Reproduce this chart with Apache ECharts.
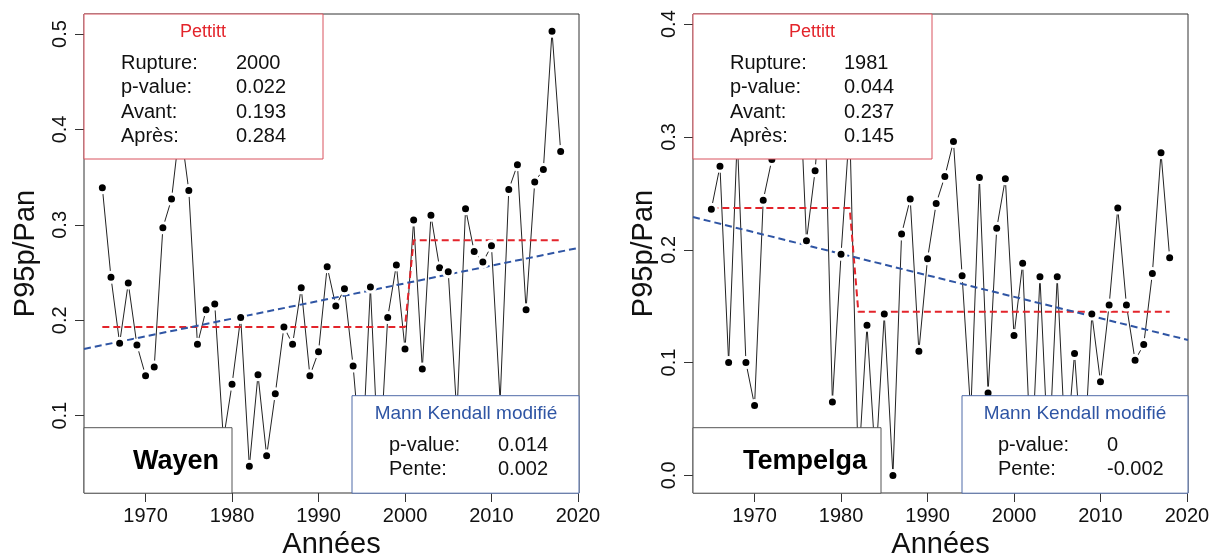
<!DOCTYPE html>
<html>
<head>
<meta charset="utf-8">
<script src="https://cdn.jsdelivr.net/npm/echarts@6/dist/echarts.min.js"></script>
<style>
  html, body { margin: 0; padding: 0; background: #fff; }
  #chart { width: 1211px; height: 557px; }
</style>
</head>
<body>
<div id="chart"></div>
<script>
// data
const years = [];
for (let y = 1965; y <= 2018; y++) years.push(y);

const wayenValues = [
  0.339, 0.245, 0.176, 0.239, 0.174, 0.142, 0.151, 0.297, 0.327, 0.405,
  0.336, 0.175, 0.211, 0.217, 0.075, 0.133, 0.203, 0.047, 0.143, 0.058,
  0.123, 0.193, 0.175, 0.234, 0.142, 0.167, 0.256, 0.215, 0.233, 0.152,
  0.045, 0.235, 0.038, 0.203, 0.258, 0.170, 0.305, 0.149, 0.310, 0.255,
  0.251, 0.100, 0.317, 0.272, 0.261, 0.278, 0.115, 0.337, 0.363, 0.211,
  0.345, 0.358, 0.503, 0.377
];
const tempelgaValues = [
  0.236, 0.274, 0.100, 0.300, 0.100, 0.062, 0.244, 0.280, 0.330, 0.300,
  0.385, 0.208, 0.270, 0.370, 0.065, 0.196, 0.310, 0.005, 0.133, 0.010,
  0.143, 0.000, 0.214, 0.245, 0.110, 0.192, 0.241, 0.265, 0.296, 0.177,
  0.055, 0.264, 0.073, 0.219, 0.263, 0.124, 0.188, 0.005, 0.176, 0.010,
  0.176, 0.015, 0.108, 0.000, 0.143, 0.083, 0.151, 0.237, 0.151, 0.102,
  0.116, 0.179, 0.286, 0.193
];

// Pettitt: rupture, p-value, avant, après
const pettittLabels = ["Rupture:", "p-value:", "Avant:", "Après:"];
const wayenPettitt = ["2000", "0.022", "0.193", "0.284"];
const tempelgaPettitt = ["1981", "0.044", "0.237", "0.145"];
// Mann Kendall modifié: p-value, pente
const mkLabels = ["p-value:", "Pente:"];
const wayenMK = ["0.014", "0.002"];
const tempelgaMK = ["0", "-0.002"];
// trend line values at the left / right edge of the plot
const xRange = [1962.88, 2020.12];
const wayenTrend = [0.170, 0.276];
const tempelgaTrend = [0.229, 0.120];

const xTicks = [1970, 1980, 1990, 2000, 2010, 2020];
const wayenYTicks = [0.1, 0.2, 0.3, 0.4, 0.5];
const tempelgaYTicks = [0.0, 0.1, 0.2, 0.3, 0.4];

const FONT = "'Liberation Sans', Arial, sans-serif";
const RED = "#e3242b";
const BLUE = "#2f55a4";

function pairs(vals) {
  return years.map((y, i) => [y, vals[i]]);
}
function stepLine(stats) {
  const r = +stats[0], a = +stats[2], b = +stats[3];
  return [[years[0], a], [r, a], [r + 1, b], [years[years.length - 1], b]];
}

function xAxisFor(gi) {
  return {
    type: "value", gridIndex: gi, min: xRange[0], max: xRange[1],
    name: "Années", nameLocation: "middle", nameGap: 37,
    nameTextStyle: { fontSize: 29, fontFamily: FONT, color: "#111" },
    axisLine: { show: false, onZero: false },
    splitLine: { show: false },
    axisTick: { show: true, inside: false, length: 9, customValues: xTicks,
      lineStyle: { color: "#333" } },
    axisLabel: { customValues: xTicks, fontSize: 20, fontFamily: FONT,
      color: "#111", margin: 13, formatter: v => String(v) }
  };
}
function yAxisFor(gi, min, max, ticks, gap) {
  return {
    type: "value", gridIndex: gi, min: min, max: max,
    name: "P95p/Pan", nameLocation: "middle", nameGap: gap, nameRotate: 90,
    nameTextStyle: { fontSize: 29, fontFamily: FONT, color: "#111" },
    axisLine: { show: false, onZero: false },
    splitLine: { show: false },
    axisTick: { show: true, inside: false, length: 9, customValues: ticks,
      lineStyle: { color: "#333" } },
    axisLabel: { customValues: ticks, rotate: 90, fontSize: 20, fontFamily: FONT,
      color: "#111", margin: 14, formatter: v => v.toFixed(1) }
  };
}
function seriesFor(gi, vals, stats, trend) {
  return [
    {
      type: "line", xAxisIndex: gi, yAxisIndex: gi, data: pairs(vals),
      symbol: "circle", symbolSize: 10,
      itemStyle: { color: "#000", borderColor: "#fff", borderWidth: 3 },
      lineStyle: { color: "#222", width: 1 }
    },
    {
      type: "line", xAxisIndex: gi, yAxisIndex: gi, data: stepLine(stats),
      symbol: "none", lineStyle: { color: RED, width: 2, type: [7, 4] }
    },
    {
      type: "line", xAxisIndex: gi, yAxisIndex: gi,
      data: [[xRange[0], trend[0]], [xRange[1], trend[1]]],
      symbol: "none", lineStyle: { color: BLUE, width: 2, type: [7, 4] }
    }
  ];
}

function txt(x, y, text, opt) {
  return {
    type: "text", x: x, y: y, z: 101,
    style: Object.assign({
      text: text, fontSize: 20, fontFamily: FONT, fill: "#111",
      align: "left", verticalAlign: "middle",
      textAlign: "left", textVerticalAlign: "middle"
    }, opt || {})
  };
}
function box(x, y, w, h, stroke) {
  return { type: "rect", z: 100, shape: { x: x, y: y, width: w, height: h },
    style: { fill: "#fff", stroke: stroke, lineWidth: 1 } };
}

// p: layout of the annotation boxes of one panel
function panelGraphics(p, name, pet, mk) {
  const g = [];
  g.push(box(p.left, 14, p.petRight - p.left, 145, "#d9535f"));
  g.push(txt(p.petTitle, 32, "Pettitt",
    { fill: RED, fontSize: 18, align: "center", textAlign: "center" }));
  [63, 87.7, 112.2, 136.7].forEach((y, i) => {
    g.push(txt(p.petLab, y, pettittLabels[i]));
    g.push(txt(p.petVal, y, pet[i]));
  });
  g.push(box(p.mkLeft, 395.7, p.right - p.mkLeft, 97.5, "#4f6aa8"));
  g.push(txt(p.mkTitle, 413.3, "Mann Kendall modifié",
    { fill: BLUE, fontSize: 19, align: "center", textAlign: "center" }));
  [445.7, 469.3].forEach((y, i) => {
    g.push(txt(p.mkLab, y, mkLabels[i]));
    g.push(txt(p.mkVal, y, mk[i]));
  });
  g.push(box(p.left, 427.7, p.nameRight - p.left, 65.5, "#555"));
  g.push(txt(p.nameX, 461.7, name,
    { fontSize: 27, fontWeight: "bold", fill: "#000", align: "center", textAlign: "center" }));
  return g;
}

const chart = echarts.init(document.getElementById("chart"));
chart.setOption({
  animation: false,
  backgroundColor: "#fff",
  grid: [
    { left: 84, right: 632, top: 14, bottom: 64, show: true, outerBoundsMode: "none",
      containLabel: false, borderColor: "#333", borderWidth: 1, backgroundColor: "transparent" },
    { left: 693, right: 23, top: 14, bottom: 64, show: true, outerBoundsMode: "none",
      containLabel: false, borderColor: "#333", borderWidth: 1, backgroundColor: "transparent" }
  ],
  xAxis: [xAxisFor(0), xAxisFor(1)],
  yAxis: [
    yAxisFor(0, 0.019, 0.521, wayenYTicks, 44),
    yAxisFor(1, -0.0156, 0.409, tempelgaYTicks, 34)
  ],
  series: seriesFor(0, wayenValues, wayenPettitt, wayenTrend)
    .concat(seriesFor(1, tempelgaValues, tempelgaPettitt, tempelgaTrend)),
  graphic: panelGraphics(
    { left: 84, right: 579, petRight: 323, petTitle: 203, petLab: 121, petVal: 236,
      mkLeft: 352, mkTitle: 466, mkLab: 389, mkVal: 498, nameRight: 232, nameX: 176 },
    "Wayen", wayenPettitt, wayenMK
  ).concat(panelGraphics(
    { left: 693, right: 1188, petRight: 932, petTitle: 812, petLab: 730, petVal: 844,
      mkLeft: 962, mkTitle: 1075, mkLab: 998, mkVal: 1107, nameRight: 881, nameX: 805 },
    "Tempelga", tempelgaPettitt, tempelgaMK
  ))
});
window.addEventListener("resize", () => chart.resize());
</script>
</body>
</html>
